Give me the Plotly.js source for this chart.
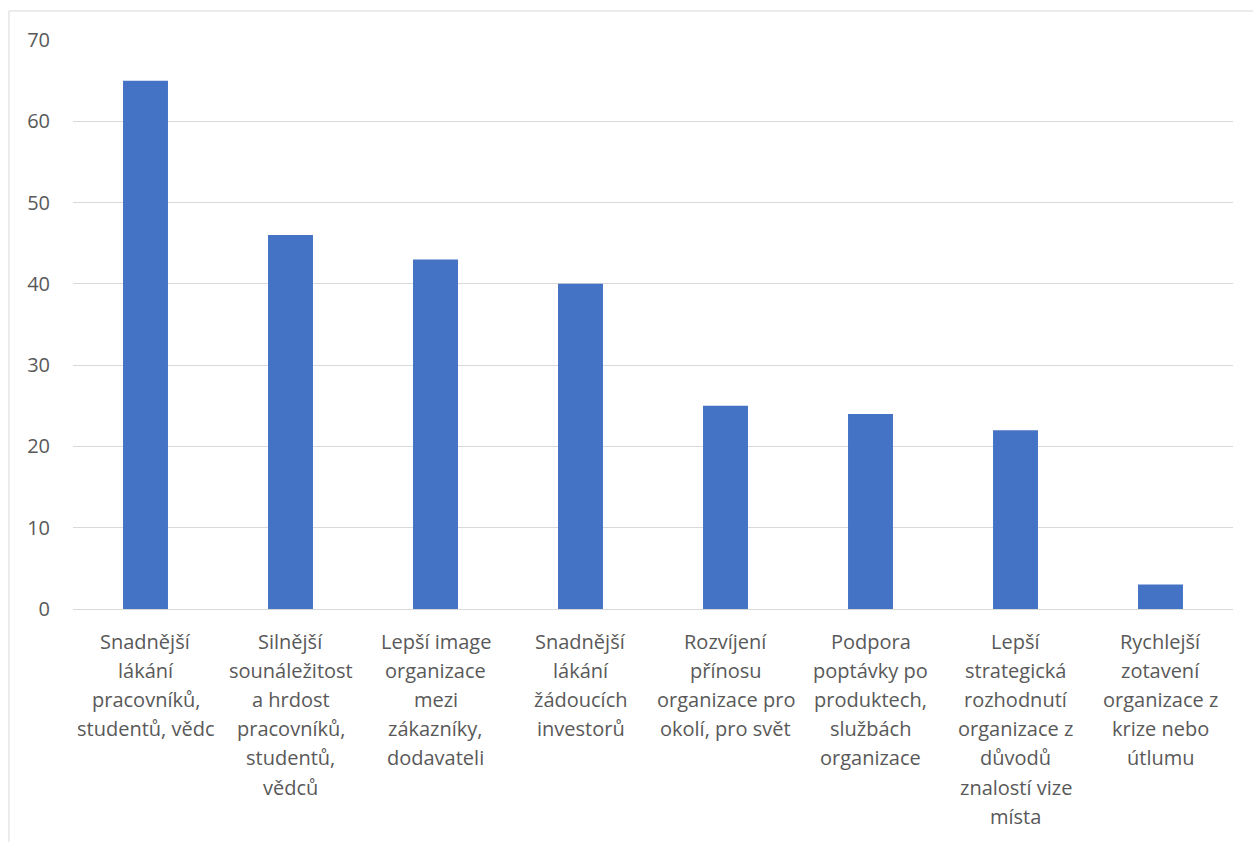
<!DOCTYPE html>
<html>
<head>
<meta charset="utf-8">
<script src="https://cdn.plot.ly/plotly-3.0.1.min.js"></script>
<style>
  html, body { margin: 0; padding: 0; background: #ffffff; }
  #chart { width: 1253px; height: 842px; }
</style>
</head>
<body>
<div id="chart"></div>
<script>
// Category labels, one entry per bar, lines as wrapped under the bar
const categories = [
  ["Snadnější", "lákání", "pracovníků,", "studentů, vědc"],
  ["Silnější", "sounáležitost", "a hrdost", "pracovníků,", "studentů,", "vědců"],
  ["Lepší image", "organizace", "mezi", "zákazníky,", "dodavateli"],
  ["Snadnější", "lákání", "žádoucích", "investorů"],
  ["Rozvíjení", "přínosu", "organizace pro", "okolí, pro svět"],
  ["Podpora", "poptávky po", "produktech,", "službách", "organizace"],
  ["Lepší", "strategická", "rozhodnutí", "organizace z", "důvodů", "znalostí vize", "místa"],
  ["Rychlejší", "zotavení", "organizace z", "krize nebo", "útlumu"]
];
const values = [65, 46, 43, 40, 25, 24, 22, 3];
const yTicks = [0, 10, 20, 30, 40, 50, 60, 70];

const textColor = "#595959";
const gridColor = "#d9d9d9";
const fontFamily = "'Open Sans', 'Noto Sans', sans-serif";
const labelSize = 20;
const lineStep = 29.2;   // px between wrapped label lines
const firstLine = 32;    // px from the axis to the first label line

const xPos = categories.map((c, i) => i);

const trace = {
  type: "bar",
  x: xPos,
  y: values,
  marker: { color: "#4472c4" },
  hoverinfo: "y"
};

// Wrapped category labels below the axis, one annotation per line
const labelAnnotations = [];
categories.forEach((lines, i) => {
  lines.forEach((line, k) => {
    labelAnnotations.push({
      xref: "x", yref: "paper",
      x: xPos[i], y: 0,
      yanchor: "middle", xanchor: "center",
      yshift: -(firstLine + k * lineStep),
      text: line,
      showarrow: false,
      font: { family: fontFamily, size: labelSize, color: textColor }
    });
  });
});

const layout = {
  width: 1253,
  height: 842,
  margin: { l: 73, r: 20, t: 40, b: 233 },
  paper_bgcolor: "#ffffff",
  plot_bgcolor: "#ffffff",
  bargap: 0.69,
  showlegend: false,
  font: { family: fontFamily, color: textColor, size: labelSize },
  xaxis: {
    range: [-0.5, categories.length - 0.5],
    showticklabels: false,
    showgrid: false,
    zeroline: false,
    showline: true,
    linecolor: gridColor,
    linewidth: 1,
    ticks: "",
    automargin: false
  },
  yaxis: {
    range: [0, 70],
    tickmode: "array",
    tickvals: yTicks,
    ticktext: yTicks.map(String),
    showgrid: true,
    gridcolor: gridColor,
    gridwidth: 1,
    zeroline: false,
    showline: false,
    ticks: "",
    ticklabelstandoff: 22,
    tickfont: { family: fontFamily, size: labelSize, color: textColor },
    automargin: false
  },
  annotations: labelAnnotations,
  shapes: [
    // chart frame (left and top edges)
    { type: "line", xref: "paper", yref: "paper", x0: -0.0552, x1: -0.0552, y0: -0.5, y1: 1.051,
      line: { color: gridColor, width: 1 } },
    { type: "line", xref: "paper", yref: "paper", x0: -0.0552, x1: 1.1, y0: 1.051, y1: 1.051,
      line: { color: gridColor, width: 1 } }
  ]
};

Plotly.newPlot("chart", [trace], layout, { displayModeBar: false, staticPlot: true });
</script>
</body>
</html>
